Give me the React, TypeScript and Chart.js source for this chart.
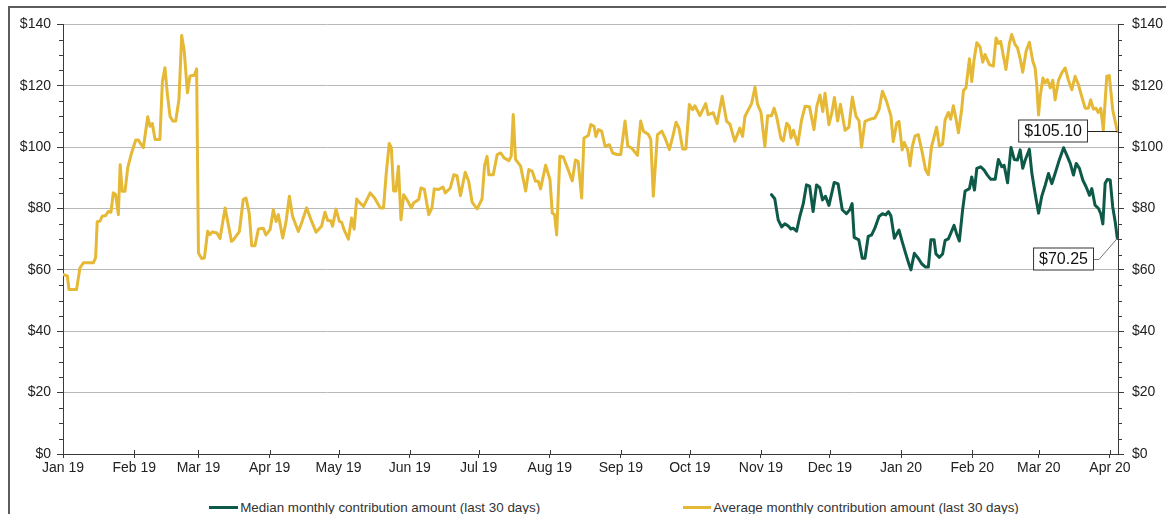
import React, { useEffect, useRef } from "react";
import { Chart, registerables } from "chart.js";

Chart.register(...registerables);

// Day index 0 = 1 Jan 2019
const monthDays = [0, 31, 59, 90, 120, 151, 181, 212, 243, 273, 304, 334, 365, 396, 425, 456];
const monthLabels = ["Jan 19", "Feb 19", "Mar 19", "Apr 19", "May 19", "Jun 19", "Jul 19", "Aug 19", "Sep 19", "Oct 19", "Nov 19", "Dec 19", "Jan 20", "Feb 20", "Mar 20", "Apr 20"];
const yTicks = [0, 20, 40, 60, 80, 100, 120, 140];

const seriesNames = [
  "Median monthly contribution amount (last 30 days)",
  "Average monthly contribution amount (last 30 days)",
];

// [day, value]
const medianSeries: [number, number][] = [
  [308.6, 84.5], [310, 83.2], [311.5, 76.3], [313, 74], [314.4, 75], [315.9, 74.3], [317, 73.3], [318, 73.6], [319.5, 72.6], [320.9, 77.4],
  [322.4, 81.5], [323.8, 87.7], [325.2, 87.3], [326.7, 79], [328.2, 87.7], [329.6, 86.8], [330.8, 82.8], [332.1, 84], [333.6, 81], [335.9, 88.5],
  [337.6, 88], [339.4, 79.6], [341.2, 78.3], [342.7, 79.6], [343.7, 81.6], [344.6, 70.6], [346.6, 69.8], [348.1, 63.8], [349.3, 63.8], [350.7, 70.9],
  [352.2, 71.4], [353.6, 73.6], [355.4, 77.4], [356.9, 78.3], [358.3, 77.9], [359.5, 79], [360.6, 77.6], [362.1, 70.3], [364.1, 73], [365.5, 69.2],
  [367, 65.4], [368.4, 62], [369.3, 60], [370.8, 65.4], [372.5, 63.8], [374, 62], [375.7, 60.9], [376.9, 60.9], [378, 69.8], [379.4, 69.8],
  [380.2, 65.2], [381.7, 64.1], [383.1, 65.2], [384.2, 69.6], [385.6, 70.1], [386.6, 71.8], [388.1, 74.5], [389.2, 71.8], [390.4, 69.4], [391.8, 79.4],
  [392.9, 85.7], [394.8, 86.5], [395.8, 90.3], [397, 86], [398, 93.1], [399.7, 93.6], [401.2, 92.5], [402.6, 90.9], [404.1, 89.5], [406, 89.5],
  [407.4, 96], [408.9, 93.6], [409.9, 94.1], [411.4, 88.4], [412.9, 99.9], [414.3, 96], [415.7, 95.8], [416.9, 99.1], [418, 93.1], [419.1, 95.8],
  [420.9, 99.3], [422, 91.4], [423.4, 84.9], [424.9, 78.5], [426.3, 84], [427.8, 87.6], [429.2, 91.4], [430.7, 88.1], [432.1, 91.4], [434, 96],
  [435.8, 99.8], [437.2, 97.4], [438.7, 94.7], [440.1, 90.9], [441.3, 94.7], [442.7, 93.1], [444.2, 89.2], [445.6, 87.1], [447.1, 84.3], [448.1, 86.5],
  [449.5, 81.1], [451, 80], [452, 78.3], [452.9, 75], [453.9, 88.2], [454.9, 89.5], [456.1, 89.3], [457.2, 80.5], [458.3, 75.6], [459.2, 70.25],
];

const averageSeries: [number, number][] = [
  [0, 58.5], [1.9, 58], [2.6, 53.6], [5.9, 53.6], [7.4, 60.7], [8.9, 62.3], [13.2, 62.3], [14.2, 64], [14.9, 75.7], [16.1, 75.9],
  [17.1, 77.5], [18.6, 77.7], [19.7, 79], [20.9, 78.8], [21.9, 85.1], [22.9, 84.6], [24.1, 78], [24.9, 94.3], [25.8, 85.6], [27, 85.6],
  [28.2, 93.3], [29.9, 98.2], [31.7, 102.3], [32.8, 102.3], [35, 99.8], [36.9, 109.9], [37.9, 106.8], [38.9, 107.7], [40.1, 102.5], [42.2, 102.5],
  [43.3, 121.5], [44.4, 125.9], [45.4, 117.7], [46.6, 110.1], [47.8, 108.5], [49.1, 108.5], [50.5, 115.5], [51.7, 136.4], [52.8, 131.3], [54.2, 117.7],
  [55.3, 123.2], [57.2, 123.4], [58.2, 125.5], [59, 65.5], [60.4, 63.7], [61.6, 63.9], [63, 72.6], [64, 71.5], [65, 72.4], [67, 72],
  [68.4, 70.2], [70.6, 80.2], [73.4, 69.3], [74.2, 69.8], [76.8, 72.5], [78.5, 82.9], [79.7, 83.4], [81.1, 78.5], [82.2, 67.9], [83.6, 67.9],
  [85.1, 73.3], [87.2, 73.6], [88.4, 71.4], [90.2, 73.1], [91.6, 79.6], [92.8, 75.8], [93.8, 78], [95.7, 70.4], [97.1, 75.5], [98.6, 84],
  [100, 77.4], [102.5, 72.5], [103.9, 75.3], [106.1, 80.2], [108.3, 75.8], [110.2, 72.3], [112.6, 74.2], [114.1, 78.8], [115.3, 76.1], [116.6, 76],
  [117.4, 74.2], [118.9, 79.8], [120.4, 75.8], [121.4, 75.5], [122.4, 73.1], [124.3, 70], [125.7, 76.9], [126.8, 73.3], [127.9, 83.1], [129.1, 82],
  [130.9, 80.7], [133.8, 85.1], [135.7, 83.4], [138.2, 80.2], [139.6, 80.2], [140.8, 91.6], [142.1, 101.2], [143, 99.8], [144, 85.7], [145, 85.7],
  [146.1, 93.8], [147.2, 76.3], [148.4, 84.5], [149.8, 82.9], [151.7, 80.2], [152.7, 81.8], [154.9, 82.9], [155.9, 86.7], [157.4, 86.2], [159.3, 78],
  [160.7, 80.2], [161.7, 86.4], [163.6, 86.2], [165.5, 87], [166.5, 85.1], [168.7, 86.7], [170.2, 91], [171.6, 90.7], [173.1, 84.2], [175.2, 91.8],
  [176.7, 88.9], [178.2, 82], [180.4, 79.9], [182.5, 83.1], [183.6, 94], [184.7, 97], [185.5, 91], [187.4, 91], [189.1, 97.6], [190.6, 98.1],
  [192.1, 96.5], [194.2, 95.6], [195.2, 97], [196.1, 110.6], [197.1, 96], [199.3, 93.8], [201.5, 85.7], [202.9, 92.7], [204.4, 92.1], [205.8, 88.9],
  [207, 88.9], [208, 86.4], [210.2, 94.1], [212.1, 89.4], [213.1, 78.5], [214.1, 78], [215, 71.4], [216.4, 97], [217.9, 96.8], [219.6, 93.5],
  [221.8, 89], [223.2, 95.8], [224.4, 95.3], [225.9, 83.4], [226.9, 103], [228.8, 103.8], [229.9, 107.4], [231.3, 106.8], [232.1, 103.5], [233.2, 105.7],
  [234.6, 105.2], [236.1, 100.3], [238, 100.8], [239.4, 98.1], [241.2, 97.6], [242.9, 97.6], [244.8, 108.5], [246, 100.3], [247.7, 99.7], [250.2, 97.3],
  [251.6, 108.5], [252.8, 105.2], [255, 104.1], [256, 102.5], [257.1, 84], [258.9, 104.1], [260.8, 105.2], [262.2, 103], [264.1, 99.2], [265.6, 103.5],
  [267, 108.1], [268.3, 106.2], [269.9, 99.4], [271.3, 99.4], [272.8, 113.9], [274.2, 112.2], [275.2, 113.5], [277.4, 110.3], [279.9, 114.2], [281, 110.6],
  [283.2, 111.2], [284.9, 107.7], [287.1, 116.6], [289, 108.5], [290.5, 107.4], [292.6, 101.9], [294.8, 106.2], [296, 103.5], [297, 110], [299.9, 114.2],
  [301.4, 119.5], [302.5, 114], [304, 111.3], [305.7, 100.2], [306.9, 110.2], [308.6, 110.2], [309.7, 112.7], [310.8, 110], [312.7, 102.8], [313.7, 102],
  [315.2, 107.8], [316.3, 106.8], [317.1, 103], [318.1, 105.5], [320, 100.8], [321.7, 108.9], [323.2, 113.3], [325.1, 113.2], [327.1, 105.7], [328.3, 113.3],
  [329.7, 117], [330.9, 111.6], [331.9, 117.6], [333.6, 107.3], [334.8, 111], [336, 116.2], [337.4, 108.5], [338.6, 114], [340.6, 105.5], [342.3, 106.5],
  [343.8, 116.3], [345.4, 110], [346.7, 108.6], [347.8, 100], [349.3, 108.4], [351.5, 109.1], [353.6, 109.5], [355.4, 112.2], [356.9, 118.2], [358.7, 114.9],
  [360.6, 110.2], [361.6, 101.8], [363.1, 107.8], [364.1, 108.4], [365.5, 99.1], [366.4, 101.5], [367.9, 99.1], [368.9, 93.9], [369.9, 100.2], [371.1, 103.7],
  [372.5, 104.1], [374, 99.1], [375.7, 92.6], [376.9, 91], [378.3, 100.2], [380.5, 106.5], [381.7, 100.4], [383.1, 101], [384.2, 108.9], [385.6, 111.3],
  [386.6, 109.1], [387.8, 113.5], [389, 108.9], [390, 104.7], [391.4, 112.2], [392.2, 118.5], [393.3, 119.3], [394.8, 128.8], [395.8, 121.4], [396.8, 128.5],
  [398, 134], [399.4, 132.7], [400.6, 127.7], [401.6, 130.2], [403.5, 126.9], [405.2, 126.4], [406.4, 135.6], [407.4, 133.8], [408.4, 134.5], [409.6, 129.6],
  [410.7, 125.3], [412.2, 133.8], [413.2, 136.7], [414.7, 133.4], [415.7, 132.4], [416.9, 128.8], [418, 124.4], [419.5, 131.3], [420.9, 134.2], [422.4, 128],
  [423.4, 125.8], [424.1, 120.3], [424.9, 110.5], [425.6, 116.5], [426.8, 122.5], [427.8, 120.9], [428.8, 122], [430, 119.3], [431.1, 121.8], [432.1, 115.4],
  [433.6, 121.8], [435, 124.2], [436.5, 125.8], [437.9, 121.8], [439.4, 118.7], [440.8, 123.1], [442.3, 120.3], [443.7, 116.5], [445.2, 112.7], [446.6, 112.7],
  [447.6, 115.4], [448.8, 112.4], [449.9, 112.7], [450.9, 111.3], [452, 112.7], [453.1, 105.6], [454.6, 123.1], [455.7, 123.3], [457.2, 112.2], [459.2, 105.1],
];

const TEAL = "#0E5A49";
const GOLD = "#E5B835";
const FONT = "'Liberation Sans', Arial, sans-serif";
const AXIS = "#3a3a3a";

const CANVAS_W = 1208;
const CANVAS_H = 480;

// Extra axis decorations: x ticks crossing the axis, minor y ticks
const decoPlugin = {
  id: "deco",
  afterDraw(chart: any) {
    const ctx = chart.ctx;
    const x = chart.scales.x;
    const y = chart.scales.y;
    const area = chart.chartArea;
    ctx.save();
    ctx.strokeStyle = AXIS;
    ctx.lineWidth = 1;
    ctx.beginPath();
    monthDays.forEach((d) => {
      const px = Math.round(x.getPixelForValue(d)) + 0.5;
      ctx.moveTo(px, area.bottom - 4);
      ctx.lineTo(px, area.bottom);
    });
    for (let v = 0; v <= 140; v += 5) {
      if (v % 20 === 0) continue;
      const py = Math.round(y.getPixelForValue(v)) + 0.5;
      ctx.moveTo(area.left - 4, py);
      ctx.lineTo(area.left, py);
      ctx.moveTo(area.right, py);
      ctx.lineTo(area.right + 4, py);
    }
    ctx.stroke();
    ctx.restore();
  },
};

// Call-out boxes for the last value of each series
const calloutPlugin = {
  id: "callouts",
  afterDatasetsDraw(chart: any) {
    const ctx = chart.ctx;
    const specs = [
      { ds: 1, boxRight: -29, dy: 0 },
      { ds: 0, boxRight: -23, dy: 21 },
    ];
    ctx.save();
    ctx.font = `16px ${FONT}`;
    specs.forEach((s) => {
      const meta = chart.getDatasetMeta(s.ds);
      const pts = meta.data;
      const last = pts[pts.length - 1];
      const raw = chart.data.datasets[s.ds].data[pts.length - 1];
      const text = "$" + raw.y.toFixed(2);
      const tw = ctx.measureText(text).width;
      const padX = 6;
      const h = 23;
      const right = Math.round(last.x + s.boxRight);
      const left = right - tw - padX * 2;
      const cy = Math.round(last.y + s.dy);
      const top = cy - h / 2;
      // leader
      ctx.strokeStyle = s.dy === 0 ? "#222" : "#777";
      ctx.lineWidth = 1;
      ctx.beginPath();
      ctx.moveTo(right, cy + 0.5);
      if (s.dy === 0) {
        ctx.lineTo(last.x, cy + 0.5);
      } else {
        ctx.lineTo(right + 5, cy + 0.5);
        ctx.lineTo(last.x, last.y);
      }
      ctx.stroke();
      ctx.fillStyle = "#ffffff";
      ctx.fillRect(left, top, right - left, h);
      ctx.strokeStyle = "#333";
      ctx.strokeRect(left + 0.5, top + 0.5, right - left - 1, h - 1);
      ctx.fillStyle = "#111";
      ctx.textBaseline = "middle";
      ctx.textAlign = "left";
      ctx.fillText(text, left + padX, cy + 1);
    });
    ctx.restore();
  },
};

export default function App() {
  const ref = useRef<HTMLCanvasElement | null>(null);

  useEffect(() => {
    if (!ref.current) return;
    const yAxisCommon = {
      type: "linear" as const,
      min: 0,
      max: 140,
      border: { display: true, color: AXIS, width: 1 },
      ticks: {
        stepSize: 20,
        color: "#222",
        font: { family: FONT, size: 14 },
        callback: (v: any) => "$" + v,
      },
      afterBuildTicks: (axis: any) => {
        axis.ticks = yTicks.map((v) => ({ value: v }));
      },
    };
    const chart = new Chart(ref.current, {
      type: "line",
      data: {
        datasets: [
          {
            label: seriesNames[0],
            data: medianSeries.map(([d, v]) => ({ x: d, y: v })),
            borderColor: TEAL,
            backgroundColor: TEAL,
            borderWidth: 3,
            pointRadius: 0,
            tension: 0,
            borderJoinStyle: "round",
            borderCapStyle: "round",
          },
          {
            label: seriesNames[1],
            data: averageSeries.map(([d, v]) => ({ x: d, y: v })),
            borderColor: GOLD,
            backgroundColor: GOLD,
            borderWidth: 3,
            pointRadius: 0,
            tension: 0,
            borderJoinStyle: "round",
            borderCapStyle: "round",
          },
        ],
      },
      options: {
        animation: false,
        responsive: false,
        devicePixelRatio: 1,
        layout: { padding: { top: 16, left: 0, right: 0, bottom: 0 } },
        plugins: {
          legend: { display: false },
          tooltip: { enabled: false },
        },
        scales: {
          x: {
            type: "linear",
            min: 0,
            max: 459.5,
            grid: { display: true, drawOnChartArea: false, drawTicks: true, tickLength: 4, color: AXIS },
            border: { display: true, color: AXIS, width: 1 },
            ticks: {
              autoSkip: false,
              maxRotation: 0,
              color: "#222",
              padding: 2,
              font: { family: FONT, size: 14 },
              callback: (v: any) => {
                const i = monthDays.indexOf(Number(v));
                return i >= 0 ? monthLabels[i] : "";
              },
            },
            afterBuildTicks: (axis: any) => {
              axis.ticks = monthDays.map((d) => ({ value: d }));
            },
            afterFit: (axis: any) => {
              axis.height = CANVAS_H - 446;
            },
          },
          y: {
            ...yAxisCommon,
            position: "left",
            grid: { display: true, color: "#b9b9b9", lineWidth: 1, tickLength: 6, tickColor: AXIS, drawTicks: true },
            ticks: { ...yAxisCommon.ticks, padding: 6 },
            afterFit: (axis: any) => {
              axis.width = 53;
            },
          },
          y2: {
            ...yAxisCommon,
            position: "right",
            grid: { display: true, drawOnChartArea: false, tickLength: 6, color: AXIS, drawTicks: true },
            ticks: { ...yAxisCommon.ticks, padding: 8 },
            afterFit: (axis: any) => {
              axis.width = CANVAS_W - 1108;
            },
          },
        },
      } as any,
      plugins: [decoPlugin, calloutPlugin],
    });
    return () => chart.destroy();
  }, []);

  const legendItem = (name: string, color: string, lineW: number) => (
    <div style={{ display: "flex", alignItems: "center" }}>
      <span style={{ display: "inline-block", width: lineW, height: 3, background: color, marginRight: 2 }} />
      <span style={{ fontFamily: FONT, fontSize: 13.4, color: "#333", whiteSpace: "nowrap" }}>{name}</span>
    </div>
  );

  return (
    <div style={{ position: "fixed", left: 0, top: 0, width: 1166, height: 514, overflow: "hidden", background: "#fff" }}>
      <div
        style={{
          position: "absolute",
          left: 8,
          top: 6,
          width: 1212,
          height: 560,
          border: "2px solid #5c5c5c",
          boxSizing: "border-box",
          background: "#fff",
        }}
      >
        <canvas ref={ref} width={CANVAS_W} height={CANVAS_H} style={{ display: "block", width: CANVAS_W, height: CANVAS_H }} />
        <div
          style={{
            position: "absolute",
            left: 0,
            top: 490,
            width: "100%",
            height: 18,
            display: "flex",
            justifyContent: "center",
            alignItems: "center",
            gap: 143,
          }}
        >
          {legendItem(seriesNames[0], TEAL, 29)}
          {legendItem(seriesNames[1], GOLD, 28)}
        </div>
      </div>
    </div>
  );
}
